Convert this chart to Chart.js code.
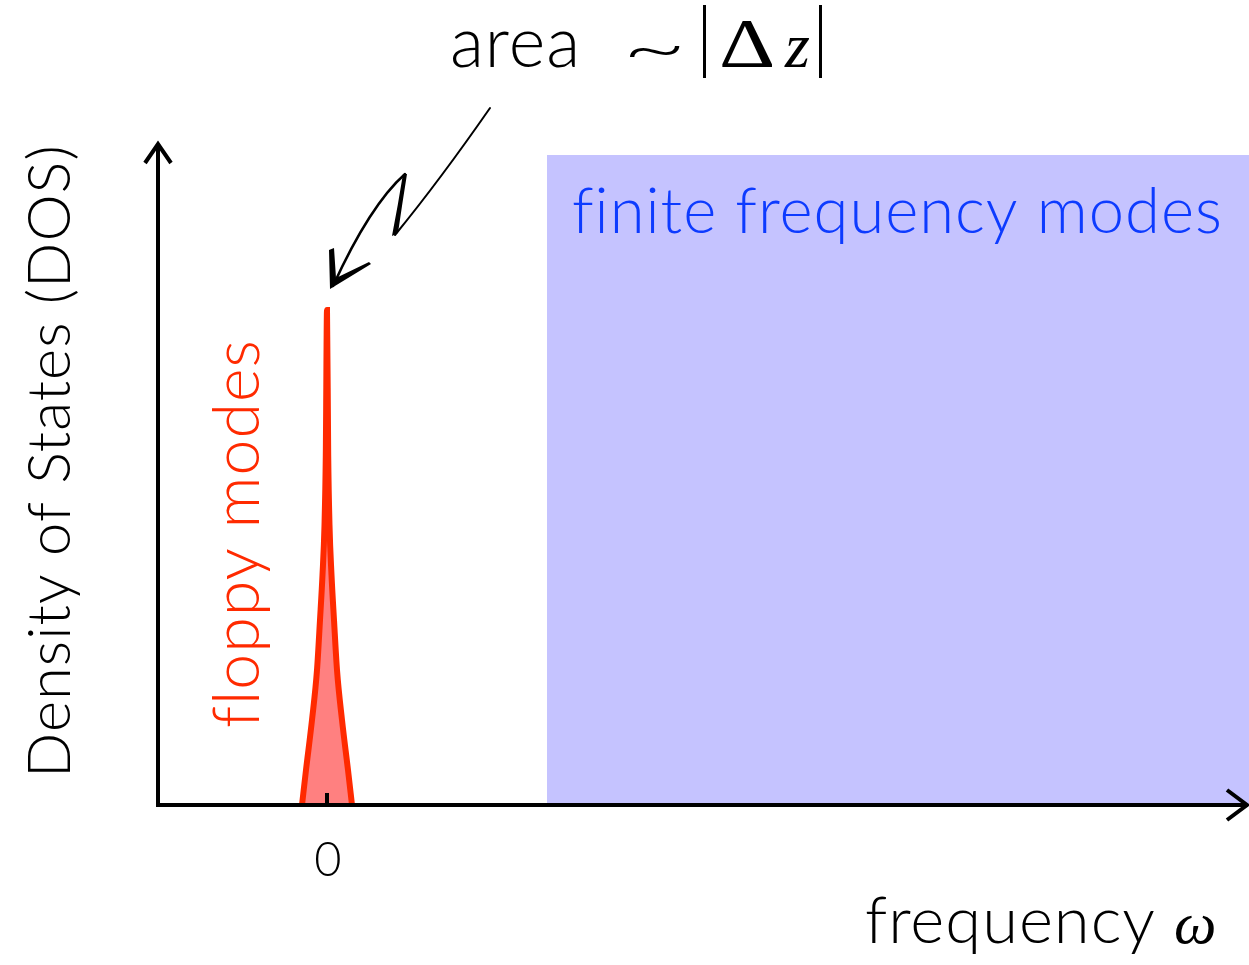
<!DOCTYPE html>
<html>
<head>
<meta charset="utf-8">
<script src="https://cdn.jsdelivr.net/npm/chart.js@4.4.0/dist/chart.umd.min.js"></script>
<style>
html,body{margin:0;padding:0;background:#fff;}
canvas{display:block;}
</style>
</head>
<body>
<canvas id="c" width="1249" height="965"></canvas>
<script>
// ---- data ----
const spikeX = [-0.25,-0.21,-0.15,-0.1,-0.07,-0.045,-0.025,-0.012,0,0.012,0.025,0.045,0.07,0.1,0.15,0.21,0.25];
const spikeY = [0,0.35,0.85,1.35,1.85,2.3,2.8,3.5,4.95,3.5,2.8,2.3,1.85,1.35,0.85,0.35,0];
const bandX = [2.2, 9.22];
const bandY = [6.5, 6.5];
const xRange = [-1.69, 9.22];
const yRange = [0, 6.62];
const tickValues = [0];
const tickLabels = ['0'];

const SANS = 'Lato, "Open Sans", "DejaVu Sans", sans-serif';
const SERIF = '"Liberation Serif", "DejaVu Serif", serif';

function fitFont(ctx, text, style, family, target, spacing) {
  ctx.letterSpacing = (spacing || 0) + 'px';
  ctx.font = style + ' 100px ' + family;
  const w0 = ctx.measureText(text).width - (spacing || 0) * text.length;
  const size = 100 * (target - (spacing || 0) * (text.length - 1)) / w0;
  return style + ' ' + size.toFixed(2) + 'px ' + family;
}

const deco = {
  id: 'deco',
  afterDatasetsDraw(chart) {
    const ctx = chart.ctx;
    const xs = chart.scales.x, ys = chart.scales.y;
    const x0 = xs.getPixelForValue(xRange[0]);
    const y0 = ys.getPixelForValue(0);
    const xEnd = xs.getPixelForValue(xRange[1]) - 2;
    const yTop = ys.getPixelForValue(yRange[1]);
    ctx.save();
    ctx.strokeStyle = '#000';
    ctx.lineWidth = 4;
    ctx.lineCap = 'butt';
    // axes
    ctx.beginPath();
    ctx.moveTo(x0, y0); ctx.lineTo(x0, yTop + 2);
    ctx.moveTo(x0 - 2, y0); ctx.lineTo(xEnd, y0);
    ctx.stroke();
    ctx.lineJoin = 'miter';
    ctx.beginPath();
    ctx.moveTo(x0 - 13, yTop + 20); ctx.lineTo(x0, yTop + 1); ctx.lineTo(x0 + 13, yTop + 20);
    ctx.moveTo(xEnd - 20, y0 - 15); ctx.lineTo(xEnd, y0); ctx.lineTo(xEnd - 20, y0 + 15);
    ctx.stroke();
    // ticks
    tickValues.forEach((v, i) => {
      const px = xs.getPixelForValue(v);
      ctx.beginPath();
      ctx.moveTo(px, y0); ctx.lineTo(px, y0 - 12);
      ctx.stroke();
      ctx.fillStyle = '#000';
      ctx.font = '300 47px ' + SANS;
      ctx.textAlign = 'center';
      ctx.textBaseline = 'alphabetic';
      ctx.fillText(tickLabels[i], px + 1, y0 + 71);
    });
    ctx.restore();
  },
  afterDraw(chart) {
    const ctx = chart.ctx;
    ctx.save();
    ctx.textBaseline = 'alphabetic';
    ctx.textAlign = 'left';
    // y axis title
    ctx.save();
    ctx.translate(70, 778);
    ctx.rotate(-Math.PI / 2);
    ctx.fillStyle = '#000';
    ctx.font = fitFont(ctx, 'Density of States (DOS)', '300', SANS, 633, 1);
    ctx.fillText('Density of States (DOS)', 0, 0);
    ctx.restore();
    // floppy modes
    ctx.save();
    ctx.translate(259, 728);
    ctx.rotate(-Math.PI / 2);
    ctx.fillStyle = '#ff2a00';
    ctx.font = fitFont(ctx, 'floppy modes', '300', SANS, 388, 1);
    ctx.fillText('floppy modes', 0, 0);
    ctx.restore();
    // finite frequency modes
    ctx.fillStyle = '#0d3bff';
    ctx.font = fitFont(ctx, 'finite frequency modes', '300', SANS, 650, 1);
    ctx.fillText('finite frequency modes', 572, 233);
    // x axis title
    ctx.fillStyle = '#000';
    ctx.font = fitFont(ctx, 'frequency', '300', SANS, 290, 1);
    ctx.fillText('frequency', 865, 943);
    ctx.letterSpacing = '0px';
    ctx.font = 'italic 60px ' + SERIF;
    ctx.fillText('ω', 1174, 943);
    // area ~ |Δz|
    ctx.font = fitFont(ctx, 'area', '300', SANS, 130, 1);
    ctx.fillText('area', 450, 67);
    ctx.letterSpacing = '0px';
    ctx.save();
    ctx.translate(622, 0);
    ctx.scale(1.6, 1);
    ctx.font = '300 70px ' + SANS;
    ctx.fillText('~', 0, 72);
    ctx.restore();
    ctx.fillRect(703, 5, 3, 73);
    ctx.fillRect(819, 5, 3, 73);
    ctx.save();
    ctx.translate(719, 0);
    ctx.scale(1.25, 1);
    ctx.font = '70px ' + SERIF;
    ctx.fillText('Δ', 0, 67);
    ctx.restore();
    ctx.font = 'italic 64px ' + SERIF;
    ctx.fillText('z', 785, 67);
    // squiggle arrow
    ctx.strokeStyle = '#000';
    ctx.fillStyle = '#000';
    ctx.lineWidth = 2;
    ctx.lineCap = 'round';
    ctx.beginPath();
    ctx.moveTo(490, 108);
    ctx.quadraticCurveTo(440, 180, 395, 235);
    ctx.stroke();
    ctx.beginPath();
    ctx.moveTo(392, 236);
    ctx.quadraticCurveTo(398, 205, 403, 174);
    ctx.lineTo(407, 174);
    ctx.quadraticCurveTo(402, 205, 398, 233);
    ctx.closePath();
    ctx.fill();
    ctx.lineWidth = 2.5;
    ctx.beginPath();
    ctx.moveTo(405, 174);
    ctx.quadraticCurveTo(370, 205, 333, 286);
    ctx.stroke();
    ctx.beginPath();
    ctx.moveTo(330, 289);
    ctx.lineTo(329, 250);
    ctx.lineTo(334, 248);
    ctx.lineTo(336, 278);
    ctx.lineTo(369, 262);
    ctx.lineTo(371, 264);
    ctx.closePath();
    ctx.fill();
    ctx.restore();
  }
};

new Chart(document.getElementById('c'), {
  type: 'scatter',
  data: {
    datasets: [
      {
        label: 'finite frequency modes',
        data: bandX.map((x, i) => ({x, y: bandY[i]})),
        showLine: true,
        borderWidth: 0,
        borderColor: 'rgba(0,0,0,0)',
        backgroundColor: '#c5c3ff',
        pointRadius: 0,
        fill: 'origin'
      },
      {
        label: 'floppy modes',
        data: spikeX.map((x, i) => ({x, y: spikeY[i]})),
        showLine: true,
        borderWidth: 6,
        borderColor: '#ff2a00',
        backgroundColor: '#ff8080',
        pointRadius: 0,
        cubicInterpolationMode: 'monotone',
        fill: 'origin'
      }
    ]
  },
  options: {
    responsive: false,
    animation: false,
    layout: {padding: {left: 158, right: 0, top: 143, bottom: 160}},
    plugins: {legend: {display: false}, tooltip: {enabled: false}, title: {display: false}},
    scales: {
      x: {type: 'linear', min: xRange[0], max: xRange[1], display: false},
      y: {type: 'linear', min: yRange[0], max: yRange[1], display: false}
    }
  },
  plugins: [deco]
});
</script>
</body>
</html>
